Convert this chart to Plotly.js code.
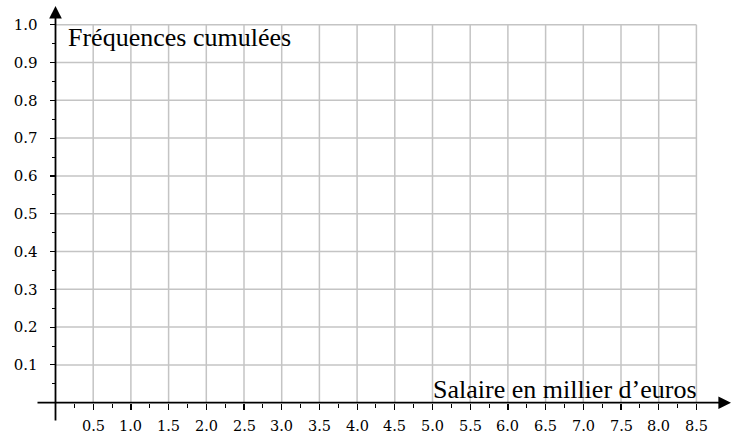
<!DOCTYPE html>
<html>
<head>
<meta charset="utf-8">
<script src="https://cdn.plot.ly/plotly-3.0.1.min.js"></script>
<style>html,body{margin:0;padding:0;background:#fff;}#chart{width:731px;height:435px;}</style>
</head>
<body>
<div id="chart"></div>
<script>
// Data (empty grid chart: only axes, ticks and labels)
const xTickVals = [0.5, 1.0, 1.5, 2.0, 2.5, 3.0, 3.5, 4.0, 4.5, 5.0, 5.5, 6.0, 6.5, 7.0, 7.5, 8.0, 8.5];
const xTickText = ["0.5","1.0","1.5","2.0","2.5","3.0","3.5","4.0","4.5","5.0","5.5","6.0","6.5","7.0","7.5","8.0","8.5"];
const xMinorVals = [0.25, 0.75, 1.25, 1.75, 2.25, 2.75, 3.25, 3.75, 4.25, 4.75, 5.25, 5.75, 6.25, 6.75, 7.25, 7.75, 8.25];
const yTickVals = [0.1, 0.2, 0.3, 0.4, 0.5, 0.6, 0.7, 0.8, 0.9, 1.0];
const yTickText = ["0.1","0.2","0.3","0.4","0.5","0.6","0.7","0.8","0.9","1.0"];
const yMinorVals = [0.05, 0.15, 0.25, 0.35, 0.45, 0.55, 0.65, 0.75, 0.85, 0.95];
const xLabel = "Salaire en millier d’euros";
const yLabel = "Fréquences cumulées";
const xMax = 8.5, yMax = 1.0;

const W = 731, H = 435;
// pixel geometry
const x0px = 55.5, xScale = 75.4;   // px per unit
const y0px = 402.7, yScale = 378;   // px per unit
const xLeftPx = 36, xRightPx = 731;
const yTopPx = 6, yBotPx = 422;
const xr = [(xLeftPx - x0px) / xScale, (xRightPx - x0px) / xScale];
const yr = [(y0px - yBotPx) / yScale, (y0px - yTopPx) / yScale];
const pxToY = p => (y0px - p) / yScale;

const gridColor = '#c4c4c4';
const shapes = [];
xTickVals.forEach(v => shapes.push({type:'line', xref:'x', yref:'y', x0:v, x1:v, y0:0, y1:yMax, layer:'below', line:{color:gridColor, width:1.5}}));
yTickVals.forEach(v => shapes.push({type:'line', xref:'x', yref:'y', x0:0, x1:xMax, y0:v, y1:v, layer:'below', line:{color:gridColor, width:1.5}}));

const serif = '"Liberation Serif", "DejaVu Serif", serif';
const tickSerif = '"DejaVu Serif", "Liberation Serif", serif';

const annotations = [
  // x axis with arrow
  {xref:'x', yref:'y', axref:'x', ayref:'y', x: xr[1], y: 0, ax: xr[0], ay: 0, text:'', showarrow:true, arrowhead:2, arrowsize:1.4, arrowwidth:1.8, arrowcolor:'#000', standoff:0, startstandoff:0},
  // y axis with arrow
  {xref:'x', yref:'y', axref:'x', ayref:'y', x: 0, y: yr[1], ax: 0, ay: yr[0], text:'', showarrow:true, arrowhead:2, arrowsize:1.4, arrowwidth:1.8, arrowcolor:'#000', standoff:0, startstandoff:0},
  {xref:'x', yref:'y', x: 0.14, y: pxToY(37.5), xanchor:'left', yanchor:'middle', text: yLabel, showarrow:false, font:{family: serif, size:26, color:'#000'}},
  {xref:'x', yref:'y', x: xMax + 0.04, y: pxToY(389), xanchor:'right', yanchor:'middle', text: xLabel, showarrow:false, font:{family: serif, size:26, color:'#000'}}
];
// x tick labels (below the plotted range, so anchored in paper coordinates vertically)
xTickVals.forEach((v, i) => annotations.push({
  xref:'x', yref:'paper', x: v, y: 1 - 426 / H, xanchor:'center', yanchor:'middle',
  text: xTickText[i], showarrow:false, font:{family: tickSerif, size:14.5, color:'#000'}
}));

const data = [{x:[0, xMax], y:[0, yMax], mode:'markers', marker:{opacity:0}, hoverinfo:'skip', showlegend:false}];

const layout = {
  width: W, height: H,
  margin:{l:0, r:0, t:0, b:0, pad:0},
  paper_bgcolor:'#fff', plot_bgcolor:'rgba(0,0,0,0)',
  showlegend:false,
  xaxis:{
    domain:[xLeftPx / W, xRightPx / W], range: xr, anchor:'free', position: 1 - y0px / H,
    showgrid:false, zeroline:false, showline:false,
    tickmode:'array', tickvals: xTickVals, ticktext: xTickText, showticklabels:false,
    ticks:'outside', ticklen:6, tickwidth:1.2, tickcolor:'#000',
    minor:{tickvals: xMinorVals, ticks:'outside', ticklen:4, tickwidth:1, tickcolor:'#000', showgrid:false},
    fixedrange:true
  },
  yaxis:{
    domain:[1 - yBotPx / H, 1 - yTopPx / H], range: yr, anchor:'free', position: x0px / W,
    showgrid:false, zeroline:false, showline:false,
    tickmode:'array', tickvals: yTickVals, ticktext: yTickText,
    ticks:'outside', ticklen:6, tickwidth:1.2, tickcolor:'#000',
    ticklabelstandoff: 9,
    tickfont:{family: tickSerif, size:15, color:'#000'},
    minor:{tickvals: yMinorVals, ticks:'outside', ticklen:4, tickwidth:1, tickcolor:'#000', showgrid:false},
    fixedrange:true
  },
  shapes: shapes,
  annotations: annotations
};

Plotly.newPlot('chart', data, layout, {staticPlot:true, displayModeBar:false});
</script>
</body>
</html>
